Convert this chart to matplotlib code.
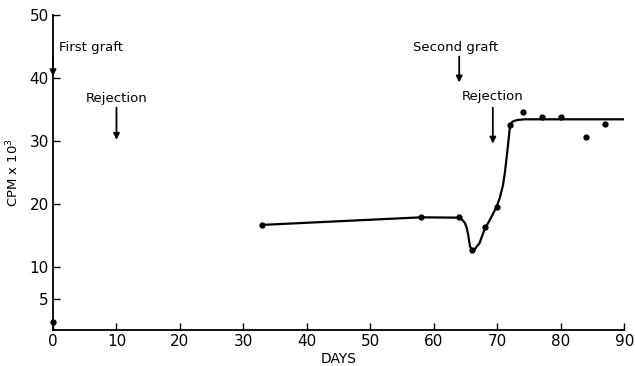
import matplotlib
matplotlib.use("Agg")
from matplotlib import pyplot as plt

# measured points (days, CPM x 10^3)
point_days = [0, 33, 58, 64, 66, 68, 70, 72, 74, 77, 80, 84, 87]
point_cpm = [1.3, 16.7, 17.9, 17.9, 12.7, 16.3, 19.6, 32.5, 34.6, 33.8, 33.8, 30.6, 32.7]

# hand-drawn curve
curve_days = [33, 58, 63.6, 64.4, 64.9, 65.2, 65.4, 65.7, 66.0, 66.5, 67.2, 68.0, 69.0, 69.9,
              70.4, 70.9, 71.2, 71.5, 71.8, 72.0, 72.4, 73.2, 74.3, 90]
curve_cpm = [16.7, 17.9, 17.85, 17.6, 17.0, 16.2, 15.2, 13.3, 12.7, 12.9, 13.8, 16.0, 17.8, 19.6,
             21.0, 23.0, 25.0, 27.6, 30.4, 32.4, 33.1, 33.35, 33.45, 33.45]

# annotations: label, text x, text y, arrow x, arrow top, arrow bottom
notes = [
    ("First graft", 1.0, 44.9, 0, 43.4, 40.3, "left"),
    ("Rejection", 10, 36.8, 10, 35.3, 30.2, "center"),
    ("Second graft", 63.4, 44.9, 64, 43.4, 39.3, "center"),
    ("Rejection", 69.2, 37.0, 69.3, 35.3, 29.6, "center"),
]

plt.rcParams["font.family"] = ["DejaVu Sans"]

fig = plt.figure(figsize=(6.35, 3.66), dpi=100)
ax = fig.add_axes([0.0835, 0.098, 0.8995, 0.861])

ax.plot(curve_days, curve_cpm, color="black", lw=1.6, solid_capstyle="round",
        solid_joinstyle="round")
ax.plot(point_days, point_cpm, "o", color="black", ms=3.5, clip_on=False)

for label, tx, ty, axx, a_top, a_bot, ha in notes:
    ax.text(tx, ty, label, ha=ha, va="center", fontsize=9.5)
    ax.annotate("", xy=(axx, a_bot), xytext=(axx, a_top),
                arrowprops=dict(arrowstyle="-|>", color="black", lw=1.3,
                                mutation_scale=9, shrinkA=0, shrinkB=0))

ax.set_xlim(0, 90)
ax.set_ylim(0, 50)
ax.set_xticks(range(0, 91, 10))
ax.set_yticks([5, 10, 20, 30, 40, 50])
ax.tick_params(direction="in", length=5, width=1, labelsize=11, pad=3)
for side in ("top", "right"):
    ax.spines[side].set_visible(False)
for side in ("left", "bottom"):
    ax.spines[side].set_linewidth(1.3)

ax.set_xlabel("DAYS", fontsize=10, labelpad=2)
ax.set_ylabel("CPM x 10$^3$", fontsize=9.5, labelpad=6)

plt.savefig("out.png", dpi=100)
